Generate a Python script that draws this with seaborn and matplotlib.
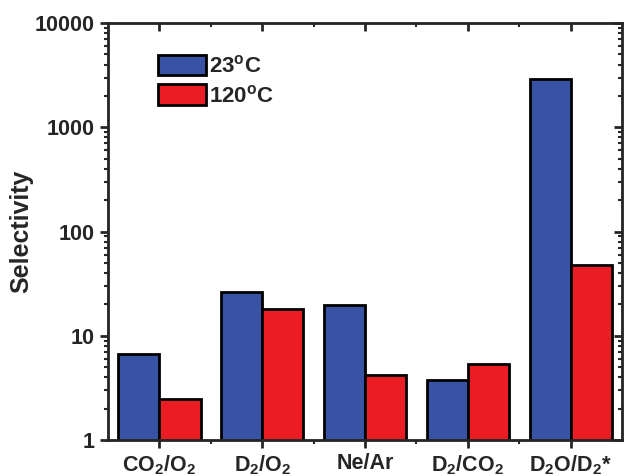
import numpy as np
import pandas as pd
import seaborn as sns
import matplotlib.pyplot as plt
from matplotlib.ticker import LogLocator, NullFormatter, FixedLocator

# ---- datos ----
pares = ['CO$_2$/O$_2$', 'D$_2$/O$_2$', 'Ne/Ar', 'D$_2$/CO$_2$', 'D$_2$O/D$_2$*']
temperaturas = ['23$^\\mathrm{o}$C', '120$^\\mathrm{o}$C']
sel_23 = [6.7, 26.4, 19.8, 3.77, 2915]
sel_120 = [2.47, 18.1, 4.2, 5.37, 47.8]
colores = ['#3953a4', '#ec1c24']

df = pd.DataFrame({
    'Par': pares * 2,
    'Temp': [temperaturas[0]] * len(pares) + [temperaturas[1]] * len(pares),
    'Selectivity': sel_23 + sel_120,
})

sns.set_style('ticks')
plt.rcParams['font.family'] = ['Liberation Sans', 'DejaVu Sans']
plt.rcParams['font.weight'] = 'bold'
plt.rcParams['mathtext.fontset'] = 'custom'
plt.rcParams['mathtext.rm'] = 'Liberation Sans:bold'
plt.rcParams['mathtext.bf'] = 'Liberation Sans:bold'
plt.rcParams['mathtext.it'] = 'Liberation Sans:bold'
plt.rcParams['mathtext.default'] = 'bf'

fig = plt.figure(figsize=(6.24, 4.76), dpi=100)
ax = fig.add_axes([0.173, 0.0756, 0.824, 0.876])

sns.barplot(data=df, x='Par', y='Selectivity', hue='Temp', palette=colores,
            width=0.8, gap=0, edgecolor='black', linewidth=2, saturation=1, ax=ax)

ax.set_yscale('log')
ax.set_ylim(1, 10000)
ax.set_xlim(-0.5, 4.5)
ax.set_yticks([1, 10, 100, 1000, 10000])
ax.set_yticklabels(['1', '10', '100', '1000', '10000'])
ax.yaxis.set_minor_locator(LogLocator(base=10, subs=np.arange(2, 10)))
ax.yaxis.set_minor_formatter(NullFormatter())
ax.xaxis.set_minor_locator(FixedLocator([0.5, 1.5, 2.5, 3.5]))
ax.set_xlabel('')
ax.set_ylabel('Selectivity', fontsize=18, fontweight='bold')
ax.yaxis.set_label_coords(-0.145, 0.5)
ax.tick_params(axis='both', which='major', direction='out', length=6, width=2, labelsize=15.5)
ax.tick_params(axis='both', which='minor', direction='out', length=3, width=1.5)
for s in ax.spines.values():
    s.set_linewidth(2)
    s.set_visible(True)

# ejes espejo arriba y derecha con ticks hacia adentro
ax_r = ax.twinx()
ax_r.set_yscale('log')
ax_r.set_ylim(ax.get_ylim())
ax_r.set_yticks([1, 10, 100, 1000, 10000])
ax_r.yaxis.set_minor_locator(LogLocator(base=10, subs=np.arange(2, 10)))
ax_r.yaxis.set_minor_formatter(NullFormatter())
ax_r.tick_params(axis='y', which='major', direction='in', length=6, width=2, labelright=False)
ax_r.tick_params(axis='y', which='minor', direction='in', length=3, width=1.5)
ax_r.grid(False)

ax_t = ax.twiny()
ax_t.set_xlim(ax.get_xlim())
ax_t.set_xticks(range(len(pares)))
ax_t.xaxis.set_minor_locator(FixedLocator([0.5, 1.5, 2.5, 3.5]))
ax_t.tick_params(axis='x', which='major', direction='in', length=6, width=2, labeltop=False)
ax_t.tick_params(axis='x', which='minor', direction='in', length=3, width=1.5)

leg = ax.legend(loc='upper left', bbox_to_anchor=(0.058, 0.972), frameon=False,
                fontsize=16, handlelength=2.15, handleheight=1.05,
                handletextpad=0.15, labelspacing=0.3)
for t in leg.get_texts():
    t.set_fontweight('bold')

fig.savefig('out.png', dpi=100)
